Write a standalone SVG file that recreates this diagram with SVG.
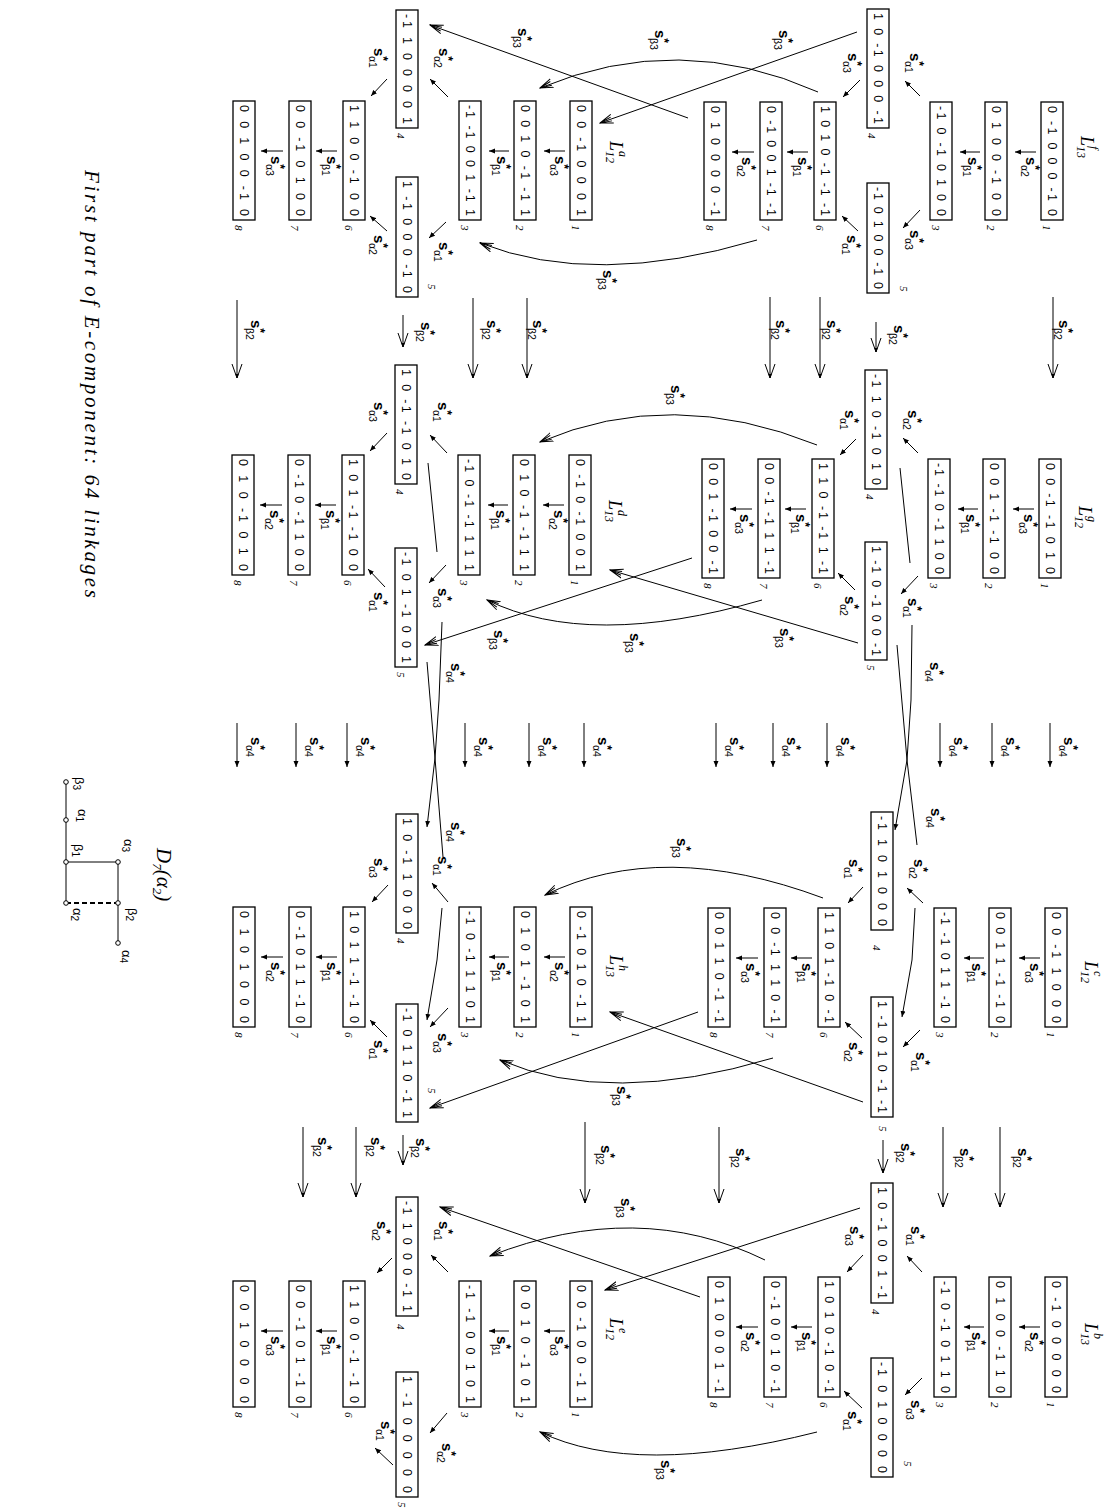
<svg xmlns="http://www.w3.org/2000/svg" width="1115" height="1508" viewBox="0 0 1115 1508">
<defs>
<style>
.bx{fill:#fff;stroke:#000;stroke-width:1.3}
.bt{font-family:"Liberation Sans",Arial,sans-serif;font-size:12.5px;fill:#000}
.nm{font-family:"Liberation Serif","Times New Roman",serif;font-style:italic;font-size:11px}
.lb{font-family:"Liberation Sans",Arial,sans-serif;font-size:15px;font-weight:bold}
.st{font-size:12px}
.sb{font-size:10.5px;font-weight:normal}
.ln{fill:none;stroke:#000;stroke-width:1}
.a1{marker-end:url(#ms)}
.a2{marker-end:url(#mv)}
.a3{marker-end:url(#mw)}
.L{font-family:"Liberation Serif","Times New Roman",serif;font-style:italic;font-size:18px}
.Ls{font-size:12px}
.dk{font-family:"Liberation Sans",Arial,sans-serif;font-size:13px}
.dks{font-size:10px}
.ttl{font-family:"Liberation Serif","Times New Roman",serif;font-style:italic;font-size:21px}
</style>
<marker id="ms" viewBox="-6 -3 6.5 6" refX="0" refY="0" markerWidth="6.5" markerHeight="6" orient="auto" markerUnits="userSpaceOnUse"><path d="M-6,-2.5 L0,0 L-6,2.5 z" fill="#000"/></marker>
<marker id="mv" viewBox="-14 -6 15 12" refX="0" refY="0" markerWidth="15" markerHeight="12" orient="auto" markerUnits="userSpaceOnUse"><path d="M-14,-5 L0,0 L-14,5" fill="none" stroke="#000" stroke-width="1"/><path d="M-4,-1.8 L0,0 L-4,1.8 z" fill="#000"/></marker>
<marker id="mw" viewBox="-13 -6 14 12" refX="0" refY="0" markerWidth="14" markerHeight="12" orient="auto" markerUnits="userSpaceOnUse"><path d="M-13,-4.5 L0,0 L-13,4.5 M-12,-2 L0,0 L-12,2" fill="none" stroke="#000" stroke-width="1"/></marker>
</defs>
<rect width="1115" height="1508" fill="#fff"/>
<g transform="translate(1115 0) rotate(90)">

<g id="connectors">
<!-- intra f -->
<path class="ln a1" d="M152,79 L152,100"/><text class="lb" x="157" y="89">s<tspan class="st" dy="-5">*</tspan><tspan class="sb" dx="-5" dy="10">α2</tspan></text>
<path class="ln a1" d="M152,135 L152,155"/><text class="lb" x="157" y="147">s<tspan class="st" dy="-5">*</tspan><tspan class="sb" dx="-5" dy="10">β1</tspan></text>
<path class="ln a1" d="M96,195 L81,210"/><text class="lb" x="53" y="205">s<tspan class="st" dy="-5">*</tspan><tspan class="sb" dx="-5" dy="10">α1</tspan></text>
<path class="ln a1" d="M210,195 L228,212"/><text class="lb" x="230" y="205">s<tspan class="st" dy="-5">*</tspan><tspan class="sb" dx="-5" dy="10">α3</tspan></text>
<path class="ln a1" d="M80,255 L97,272"/><text class="lb" x="53" y="267">s<tspan class="st" dy="-5">*</tspan><tspan class="sb" dx="-5" dy="10">α3</tspan></text>
<path class="ln a1" d="M231,257 L216,273"/><text class="lb" x="235" y="268">s<tspan class="st" dy="-5">*</tspan><tspan class="sb" dx="-5" dy="10">α1</tspan></text>
<path class="ln a1" d="M152,307 L152,328"/><text class="lb" x="157" y="317">s<tspan class="st" dy="-5">*</tspan><tspan class="sb" dx="-5" dy="10">β1</tspan></text>
<path class="ln a1" d="M152,361 L152,383"/><text class="lb" x="157" y="373">s<tspan class="st" dy="-5">*</tspan><tspan class="sb" dx="-5" dy="10">α2</tspan></text>
<!-- intra g -->
<path class="ln a1" d="M509,81 L509,102"/><text class="lb" x="514" y="91">s<tspan class="st" dy="-5">*</tspan><tspan class="sb" dx="-5" dy="10">α3</tspan></text>
<path class="ln a1" d="M509,137 L509,157"/><text class="lb" x="514" y="149">s<tspan class="st" dy="-5">*</tspan><tspan class="sb" dx="-5" dy="10">β1</tspan></text>
<path class="ln a1" d="M453,197 L438,212"/><text class="lb" x="410" y="207">s<tspan class="st" dy="-5">*</tspan><tspan class="sb" dx="-5" dy="10">α2</tspan></text>
<path class="ln a1" d="M576,197 L594,214"/><text class="lb" x="598" y="207">s<tspan class="st" dy="-5">*</tspan><tspan class="sb" dx="-5" dy="10">α1</tspan></text>
<path class="ln a1" d="M439,259 L455,275"/><text class="lb" x="410" y="270">s<tspan class="st" dy="-5">*</tspan><tspan class="sb" dx="-5" dy="10">α1</tspan></text>
<path class="ln a1" d="M590,260 L573,277"/><text class="lb" x="596" y="270">s<tspan class="st" dy="-5">*</tspan><tspan class="sb" dx="-5" dy="10">α2</tspan></text>
<path class="ln a1" d="M509,309 L509,330"/><text class="lb" x="514" y="319">s<tspan class="st" dy="-5">*</tspan><tspan class="sb" dx="-5" dy="10">β1</tspan></text>
<path class="ln a1" d="M509,363 L509,385"/><text class="lb" x="514" y="375">s<tspan class="st" dy="-5">*</tspan><tspan class="sb" dx="-5" dy="10">α3</tspan></text>
<!-- intra c -->
<path class="ln a1" d="M958,75 L958,96"/><text class="lb" x="963" y="85">s<tspan class="st" dy="-5">*</tspan><tspan class="sb" dx="-5" dy="10">α3</tspan></text>
<path class="ln a1" d="M958,131 L958,151"/><text class="lb" x="963" y="143">s<tspan class="st" dy="-5">*</tspan><tspan class="sb" dx="-5" dy="10">β1</tspan></text>
<path class="ln a1" d="M903,192 L888,208"/><text class="lb" x="859" y="201">s<tspan class="st" dy="-5">*</tspan><tspan class="sb" dx="-5" dy="10">α2</tspan></text>
<path class="ln a1" d="M1030,195 L1047,212"/><text class="lb" x="1052" y="199">s<tspan class="st" dy="-5">*</tspan><tspan class="sb" dx="-5" dy="10">α1</tspan></text>
<path class="ln a1" d="M887,252 L903,267"/><text class="lb" x="859" y="266">s<tspan class="st" dy="-5">*</tspan><tspan class="sb" dx="-5" dy="10">α1</tspan></text>
<path class="ln a1" d="M1038,253 L1022,270"/><text class="lb" x="1042" y="266">s<tspan class="st" dy="-5">*</tspan><tspan class="sb" dx="-5" dy="10">α2</tspan></text>
<path class="ln a1" d="M958,303 L958,324"/><text class="lb" x="963" y="313">s<tspan class="st" dy="-5">*</tspan><tspan class="sb" dx="-5" dy="10">β1</tspan></text>
<path class="ln a1" d="M958,357 L958,379"/><text class="lb" x="963" y="369">s<tspan class="st" dy="-5">*</tspan><tspan class="sb" dx="-5" dy="10">α3</tspan></text>
<!-- intra b -->
<path class="ln a1" d="M1327,75 L1327,96"/><text class="lb" x="1332" y="85">s<tspan class="st" dy="-5">*</tspan><tspan class="sb" dx="-5" dy="10">α2</tspan></text>
<path class="ln a1" d="M1327,131 L1327,151"/><text class="lb" x="1332" y="143">s<tspan class="st" dy="-5">*</tspan><tspan class="sb" dx="-5" dy="10">β1</tspan></text>
<path class="ln a1" d="M1272,193 L1256,208"/><text class="lb" x="1226" y="204">s<tspan class="st" dy="-5">*</tspan><tspan class="sb" dx="-5" dy="10">α1</tspan></text>
<path class="ln a1" d="M1378,193 L1395,210"/><text class="lb" x="1400" y="204">s<tspan class="st" dy="-5">*</tspan><tspan class="sb" dx="-5" dy="10">α3</tspan></text>
<path class="ln a1" d="M1255,252 L1272,268"/><text class="lb" x="1226" y="265">s<tspan class="st" dy="-5">*</tspan><tspan class="sb" dx="-5" dy="10">α3</tspan></text>
<path class="ln a1" d="M1408,253 L1391,271"/><text class="lb" x="1411" y="267">s<tspan class="st" dy="-5">*</tspan><tspan class="sb" dx="-5" dy="10">α1</tspan></text>
<path class="ln a1" d="M1327,303 L1327,324"/><text class="lb" x="1332" y="313">s<tspan class="st" dy="-5">*</tspan><tspan class="sb" dx="-5" dy="10">β1</tspan></text>
<path class="ln a1" d="M1327,357 L1327,379"/><text class="lb" x="1332" y="369">s<tspan class="st" dy="-5">*</tspan><tspan class="sb" dx="-5" dy="10">α2</tspan></text>
<!-- intra a -->
<path class="ln a1" d="M151,550 L151,571"/><text class="lb" x="156" y="560">s<tspan class="st" dy="-5">*</tspan><tspan class="sb" dx="-5" dy="10">α3</tspan></text>
<path class="ln a1" d="M151,606 L151,626"/><text class="lb" x="156" y="618">s<tspan class="st" dy="-5">*</tspan><tspan class="sb" dx="-5" dy="10">β1</tspan></text>
<path class="ln a1" d="M97,667 L79,685"/><text class="lb" x="48" y="676">s<tspan class="st" dy="-5">*</tspan><tspan class="sb" dx="-5" dy="10">α2</tspan></text>
<path class="ln a1" d="M222,669 L238,686"/><text class="lb" x="242" y="676">s<tspan class="st" dy="-5">*</tspan><tspan class="sb" dx="-5" dy="10">α1</tspan></text>
<path class="ln a1" d="M79,728 L96,744"/><text class="lb" x="48" y="741">s<tspan class="st" dy="-5">*</tspan><tspan class="sb" dx="-5" dy="10">α1</tspan></text>
<path class="ln a1" d="M231,728 L216,745"/><text class="lb" x="235" y="741">s<tspan class="st" dy="-5">*</tspan><tspan class="sb" dx="-5" dy="10">α2</tspan></text>
<path class="ln a1" d="M151,778 L151,799"/><text class="lb" x="156" y="788">s<tspan class="st" dy="-5">*</tspan><tspan class="sb" dx="-5" dy="10">β1</tspan></text>
<path class="ln a1" d="M151,832 L151,854"/><text class="lb" x="156" y="844">s<tspan class="st" dy="-5">*</tspan><tspan class="sb" dx="-5" dy="10">α3</tspan></text>
<!-- intra d -->
<path class="ln a1" d="M505,551 L505,572"/><text class="lb" x="510" y="561">s<tspan class="st" dy="-5">*</tspan><tspan class="sb" dx="-5" dy="10">α2</tspan></text>
<path class="ln a1" d="M505,607 L505,627"/><text class="lb" x="510" y="619">s<tspan class="st" dy="-5">*</tspan><tspan class="sb" dx="-5" dy="10">β1</tspan></text>
<path class="ln a1" d="M453,668 L435,685"/><text class="lb" x="402" y="677">s<tspan class="st" dy="-5">*</tspan><tspan class="sb" dx="-5" dy="10">α1</tspan></text>
<path class="ln a1" d="M565,669 L583,686"/><text class="lb" x="588" y="677">s<tspan class="st" dy="-5">*</tspan><tspan class="sb" dx="-5" dy="10">α3</tspan></text>
<path class="ln a1" d="M433,728 L451,745"/><text class="lb" x="402" y="741">s<tspan class="st" dy="-5">*</tspan><tspan class="sb" dx="-5" dy="10">α3</tspan></text>
<path class="ln a1" d="M587,730 L569,747"/><text class="lb" x="592" y="741">s<tspan class="st" dy="-5">*</tspan><tspan class="sb" dx="-5" dy="10">α1</tspan></text>
<path class="ln a1" d="M505,779 L505,800"/><text class="lb" x="510" y="789">s<tspan class="st" dy="-5">*</tspan><tspan class="sb" dx="-5" dy="10">β1</tspan></text>
<path class="ln a1" d="M505,833 L505,855"/><text class="lb" x="510" y="845">s<tspan class="st" dy="-5">*</tspan><tspan class="sb" dx="-5" dy="10">α2</tspan></text>
<!-- intra h -->
<path class="ln a1" d="M957,550 L957,571"/><text class="lb" x="962" y="560">s<tspan class="st" dy="-5">*</tspan><tspan class="sb" dx="-5" dy="10">α2</tspan></text>
<path class="ln a1" d="M957,606 L957,626"/><text class="lb" x="962" y="618">s<tspan class="st" dy="-5">*</tspan><tspan class="sb" dx="-5" dy="10">β1</tspan></text>
<path class="ln a1" d="M902,667 L883,683"/><text class="lb" x="856" y="677">s<tspan class="st" dy="-5">*</tspan><tspan class="sb" dx="-5" dy="10">α1</tspan></text>
<path class="ln a1" d="M1008,667 L1027,685"/><text class="lb" x="1033" y="677">s<tspan class="st" dy="-5">*</tspan><tspan class="sb" dx="-5" dy="10">α3</tspan></text>
<path class="ln a1" d="M885,727 L902,743"/><text class="lb" x="858" y="741">s<tspan class="st" dy="-5">*</tspan><tspan class="sb" dx="-5" dy="10">α3</tspan></text>
<path class="ln a1" d="M1037,728 L1020,745"/><text class="lb" x="1040" y="741">s<tspan class="st" dy="-5">*</tspan><tspan class="sb" dx="-5" dy="10">α1</tspan></text>
<path class="ln a1" d="M957,778 L957,799"/><text class="lb" x="962" y="788">s<tspan class="st" dy="-5">*</tspan><tspan class="sb" dx="-5" dy="10">β1</tspan></text>
<path class="ln a1" d="M957,832 L957,854"/><text class="lb" x="962" y="844">s<tspan class="st" dy="-5">*</tspan><tspan class="sb" dx="-5" dy="10">α2</tspan></text>
<!-- intra e -->
<path class="ln a1" d="M1331,550 L1331,571"/><text class="lb" x="1336" y="560">s<tspan class="st" dy="-5">*</tspan><tspan class="sb" dx="-5" dy="10">α3</tspan></text>
<path class="ln a1" d="M1331,606 L1331,626"/><text class="lb" x="1336" y="618">s<tspan class="st" dy="-5">*</tspan><tspan class="sb" dx="-5" dy="10">β1</tspan></text>
<path class="ln a1" d="M1272,667 L1255,684"/><text class="lb" x="1221" y="676">s<tspan class="st" dy="-5">*</tspan><tspan class="sb" dx="-5" dy="10">α1</tspan></text>
<path class="ln a1" d="M1413,668 L1433,685"/><text class="lb" x="1443" y="673">s<tspan class="st" dy="-5">*</tspan><tspan class="sb" dx="-5" dy="10">α2</tspan></text>
<path class="ln a1" d="M1258,723 L1273,738"/><text class="lb" x="1221" y="738">s<tspan class="st" dy="-5">*</tspan><tspan class="sb" dx="-5" dy="10">α2</tspan></text>
<path class="ln a1" d="M1465,722 L1448,740"/><text class="lb" x="1421" y="734">s<tspan class="st" dy="-5">*</tspan><tspan class="sb" dx="-5" dy="10">α1</tspan></text>
<path class="ln a1" d="M1331,778 L1331,799"/><text class="lb" x="1336" y="788">s<tspan class="st" dy="-5">*</tspan><tspan class="sb" dx="-5" dy="10">β1</tspan></text>
<path class="ln a1" d="M1331,832 L1331,854"/><text class="lb" x="1336" y="844">s<tspan class="st" dy="-5">*</tspan><tspan class="sb" dx="-5" dy="10">α3</tspan></text>

<!-- beta2 f->g -->
<path class="ln a2" d="M297,62 L378,62"/><text class="lb" x="320" y="56">s<tspan class="st" dy="-5">*</tspan><tspan class="sb" dx="-5" dy="10">β2</tspan></text>
<path class="ln a2" d="M322,239 L352,239"/><text class="lb" x="325" y="221">s<tspan class="st" dy="-5">*</tspan><tspan class="sb" dx="-5" dy="10">β2</tspan></text>
<path class="ln a2" d="M297,295 L378,295"/><text class="lb" x="320" y="288">s<tspan class="st" dy="-5">*</tspan><tspan class="sb" dx="-5" dy="10">β2</tspan></text>
<path class="ln a2" d="M297,345 L378,345"/><text class="lb" x="320" y="339">s<tspan class="st" dy="-5">*</tspan><tspan class="sb" dx="-5" dy="10">β2</tspan></text>
<!-- beta2 a->d -->
<path class="ln a2" d="M298,588 L378,588"/><text class="lb" x="320" y="582">s<tspan class="st" dy="-5">*</tspan><tspan class="sb" dx="-5" dy="10">β2</tspan></text>
<path class="ln a2" d="M298,642 L378,642"/><text class="lb" x="320" y="628">s<tspan class="st" dy="-5">*</tspan><tspan class="sb" dx="-5" dy="10">β2</tspan></text>
<path class="ln a2" d="M315,712 L347,712"/><text class="lb" x="322" y="694">s<tspan class="st" dy="-5">*</tspan><tspan class="sb" dx="-5" dy="10">β2</tspan></text>
<path class="ln a2" d="M300,878 L378,878"/><text class="lb" x="320" y="864">s<tspan class="st" dy="-5">*</tspan><tspan class="sb" dx="-5" dy="10">β2</tspan></text>
<!-- beta2 c->b -->
<path class="ln a2" d="M1127,115 L1207,115"/><text class="lb" x="1148" y="97">s<tspan class="st" dy="-5">*</tspan><tspan class="sb" dx="-5" dy="10">β2</tspan></text>
<path class="ln a2" d="M1127,172 L1207,172"/><text class="lb" x="1148" y="155">s<tspan class="st" dy="-5">*</tspan><tspan class="sb" dx="-5" dy="10">β2</tspan></text>
<path class="ln a2" d="M1140,232 L1173,232"/><text class="lb" x="1143" y="214">s<tspan class="st" dy="-5">*</tspan><tspan class="sb" dx="-5" dy="10">β2</tspan></text>
<path class="ln a2" d="M1127,396 L1203,396"/><text class="lb" x="1148" y="379">s<tspan class="st" dy="-5">*</tspan><tspan class="sb" dx="-5" dy="10">β2</tspan></text>
<!-- beta2 h->e -->
<path class="ln a2" d="M1122,530 L1203,530"/><text class="lb" x="1145" y="514">s<tspan class="st" dy="-5">*</tspan><tspan class="sb" dx="-5" dy="10">β2</tspan></text>
<path class="ln a2" d="M1135,712 L1165,712"/><text class="lb" x="1138" y="699">s<tspan class="st" dy="-5">*</tspan><tspan class="sb" dx="-5" dy="10">β2</tspan></text>
<path class="ln a2" d="M1127,759 L1197,759"/><text class="lb" x="1137" y="744">s<tspan class="st" dy="-5">*</tspan><tspan class="sb" dx="-5" dy="10">β2</tspan></text>
<path class="ln a2" d="M1127,812 L1197,812"/><text class="lb" x="1137" y="797">s<tspan class="st" dy="-5">*</tspan><tspan class="sb" dx="-5" dy="10">β2</tspan></text>

<!-- alpha4 g->c -->
<path class="ln a1" d="M723,65 L767,65"/><text class="lb" x="737" y="51">s<tspan class="st" dy="-5">*</tspan><tspan class="sb" dx="-5" dy="10">α4</tspan></text>
<path class="ln a1" d="M723,123 L767,123"/><text class="lb" x="737" y="109">s<tspan class="st" dy="-5">*</tspan><tspan class="sb" dx="-5" dy="10">α4</tspan></text>
<path class="ln a1" d="M723,175 L767,175"/><text class="lb" x="737" y="161">s<tspan class="st" dy="-5">*</tspan><tspan class="sb" dx="-5" dy="10">α4</tspan></text>
<path class="ln a1" d="M723,288 L767,288"/><text class="lb" x="737" y="274">s<tspan class="st" dy="-5">*</tspan><tspan class="sb" dx="-5" dy="10">α4</tspan></text>
<path class="ln a1" d="M723,342 L767,342"/><text class="lb" x="737" y="328">s<tspan class="st" dy="-5">*</tspan><tspan class="sb" dx="-5" dy="10">α4</tspan></text>
<path class="ln a1" d="M723,399 L767,399"/><text class="lb" x="737" y="385">s<tspan class="st" dy="-5">*</tspan><tspan class="sb" dx="-5" dy="10">α4</tspan></text>
<!-- alpha4 d->h -->
<path class="ln a1" d="M723,531 L767,531"/><text class="lb" x="737" y="517">s<tspan class="st" dy="-5">*</tspan><tspan class="sb" dx="-5" dy="10">α4</tspan></text>
<path class="ln a1" d="M723,586 L767,586"/><text class="lb" x="737" y="572">s<tspan class="st" dy="-5">*</tspan><tspan class="sb" dx="-5" dy="10">α4</tspan></text>
<path class="ln a1" d="M723,650 L767,650"/><text class="lb" x="737" y="636">s<tspan class="st" dy="-5">*</tspan><tspan class="sb" dx="-5" dy="10">α4</tspan></text>
<path class="ln a1" d="M723,768 L767,768"/><text class="lb" x="737" y="754">s<tspan class="st" dy="-5">*</tspan><tspan class="sb" dx="-5" dy="10">α4</tspan></text>
<path class="ln a1" d="M723,819 L767,819"/><text class="lb" x="737" y="805">s<tspan class="st" dy="-5">*</tspan><tspan class="sb" dx="-5" dy="10">α4</tspan></text>
<path class="ln a1" d="M723,878 L767,878"/><text class="lb" x="737" y="864">s<tspan class="st" dy="-5">*</tspan><tspan class="sb" dx="-5" dy="10">α4</tspan></text>
<!-- alpha4 crossing curves -->
<path class="ln a1" d="M468,215 L563,205 M625,203 L700,204 L760,208 L830,220"/>
<path class="ln a1" d="M645,218 L760,208 L845,198 M908,200 L960,203 L1017,213"/>
<text class="lb" x="662" y="185">s<tspan class="st" dy="-5">*</tspan><tspan class="sb" dx="-5" dy="10">α4</tspan></text>
<text class="lb" x="808" y="184">s<tspan class="st" dy="-5">*</tspan><tspan class="sb" dx="-5" dy="10">α4</tspan></text>
<path class="ln a1" d="M463,687 L552,678 M622,673 L700,676 L758,680 L827,688"/>
<path class="ln a1" d="M662,688 L758,680 L857,672 M908,673 L960,678 L1020,688"/>
<text class="lb" x="663" y="664">s<tspan class="st" dy="-5">*</tspan><tspan class="sb" dx="-5" dy="10">α4</tspan></text>
<text class="lb" x="822" y="664">s<tspan class="st" dy="-5">*</tspan><tspan class="sb" dx="-5" dy="10">α4</tspan></text>

<!-- beta3 f/a -->
<path class="ln a3" d="M32,258 L123,515"/>
<path class="ln a3" d="M92,297 Q30,436 88,575"/>
<path class="ln a3" d="M118,427 L25,685"/>
<path class="ln a3" d="M240,358 Q288,520 243,635"/>
<text class="lb" x="30" y="336">s<tspan class="st" dy="-5">*</tspan><tspan class="sb" dx="-5" dy="10">β3</tspan></text>
<text class="lb" x="30" y="460">s<tspan class="st" dy="-5">*</tspan><tspan class="sb" dx="-5" dy="10">β3</tspan></text>
<text class="lb" x="28" y="597">s<tspan class="st" dy="-5">*</tspan><tspan class="sb" dx="-5" dy="10">β3</tspan></text>
<text class="lb" x="270" y="512">s<tspan class="st" dy="-5">*</tspan><tspan class="sb" dx="-5" dy="10">β3</tspan></text>
<!-- beta3 g/d -->
<path class="ln a3" d="M643,257 L570,505"/>
<path class="ln a3" d="M445,298 Q386,444 442,575"/>
<path class="ln a3" d="M558,423 L645,690"/>
<path class="ln a3" d="M600,353 Q650,526 600,628"/>
<text class="lb" x="385" y="444">s<tspan class="st" dy="-5">*</tspan><tspan class="sb" dx="-5" dy="10">β3</tspan></text>
<text class="lb" x="633" y="485">s<tspan class="st" dy="-5">*</tspan><tspan class="sb" dx="-5" dy="10">β3</tspan></text>
<text class="lb" x="630" y="621">s<tspan class="st" dy="-5">*</tspan><tspan class="sb" dx="-5" dy="10">β3</tspan></text>
<text class="lb" x="628" y="335">s<tspan class="st" dy="-5">*</tspan><tspan class="sb" dx="-5" dy="10">β3</tspan></text>
<!-- beta3 c/h -->
<path class="ln a3" d="M1102,252 L1012,505"/>
<path class="ln a3" d="M898,292 Q838,453 895,570"/>
<path class="ln a3" d="M1012,417 L1108,685"/>
<path class="ln a3" d="M1058,342 Q1107,506 1060,615"/>
<text class="lb" x="838" y="438">s<tspan class="st" dy="-5">*</tspan><tspan class="sb" dx="-5" dy="10">β3</tspan></text>
<text class="lb" x="1086" y="498">s<tspan class="st" dy="-5">*</tspan><tspan class="sb" dx="-5" dy="10">β3</tspan></text>
<!-- beta3 b/e -->
<path class="ln a3" d="M1208,255 L1290,510"/>
<path class="ln a3" d="M1260,350 Q1198,477 1256,625"/>
<path class="ln a3" d="M1297,415 L1207,675"/>
<path class="ln a3" d="M1432,298 Q1478,480 1432,575"/>
<text class="lb" x="1198" y="494">s<tspan class="st" dy="-5">*</tspan><tspan class="sb" dx="-5" dy="10">β3</tspan></text>
<text class="lb" x="1460" y="454">s<tspan class="st" dy="-5">*</tspan><tspan class="sb" dx="-5" dy="10">β3</tspan></text>
</g>

<!-- L_13^f -->
<g id="Lf">
<text class="L" x="136" y="34">L<tspan class="Ls" dy="4">13</tspan><tspan class="Ls" dx="-12" dy="-13">f</tspan></text>
<g id="f1"><rect class="bx" x="102" y="52" width="118" height="22"/><text class="bt" x="106" y="67.5" textLength="110">0 -1 0 0 0 -1 0</text><text class="nm" x="225" y="72">1</text></g>
<g id="f2"><rect class="bx" x="102" y="108" width="118" height="22"/><text class="bt" x="106" y="123.5" textLength="110">0 1 0 0 -1 0 0</text><text class="nm" x="225" y="128">2</text></g>
<g id="f3"><rect class="bx" x="102" y="163" width="118" height="22"/><text class="bt" x="106" y="178.5" textLength="110">-1 0 -1 0 1 0 0</text><text class="nm" x="225" y="183">3</text></g>
<g id="f4"><rect class="bx" x="9" y="226" width="119" height="22"/><text class="bt" x="13" y="241.5" textLength="111">1 0 -1 0 0 0 -1</text><text class="nm" x="133" y="247">4</text></g>
<g id="f5"><rect class="bx" x="183" y="226" width="110" height="22"/><text class="bt" x="187" y="241.5" textLength="102">-1 0 1 0 0 -1 0</text><text class="nm" x="286" y="215">5</text></g>
<g id="f6"><rect class="bx" x="102" y="279" width="118" height="22"/><text class="bt" x="106" y="294.5" textLength="110">1 0 1 0 -1 -1 -1</text><text class="nm" x="225" y="299">6</text></g>
<g id="f7"><rect class="bx" x="102" y="333" width="118" height="22"/><text class="bt" x="106" y="348.5" textLength="110">0 -1 0 0 1 -1 -1</text><text class="nm" x="225" y="353">7</text></g>
<g id="f8"><rect class="bx" x="102" y="389" width="118" height="22"/><text class="bt" x="106" y="404.5" textLength="110">0 1 0 0 0 0 -1</text><text class="nm" x="225" y="409">8</text></g>
</g>

<!-- L_12^g -->
<g id="Lg">
<text class="L" x="506" y="36">L<tspan class="Ls" dy="4">12</tspan><tspan class="Ls" dx="-12" dy="-13">g</tspan></text>
<g id="g1"><rect class="bx" x="459" y="54" width="119" height="22"/><text class="bt" x="463" y="69.5" textLength="111">0 0 -1 -1 0 1 0</text><text class="nm" x="583" y="74">1</text></g>
<g id="g2"><rect class="bx" x="459" y="110" width="119" height="22"/><text class="bt" x="463" y="125.5" textLength="111">0 0 1 -1 -1 0 0</text><text class="nm" x="583" y="130">2</text></g>
<g id="g3"><rect class="bx" x="459" y="165" width="119" height="22"/><text class="bt" x="463" y="180.5" textLength="111">-1 -1 0 -1 1 0 0</text><text class="nm" x="583" y="185">3</text></g>
<g id="g4"><rect class="bx" x="370" y="228" width="119" height="22"/><text class="bt" x="374" y="243.5" textLength="111">-1 1 0 -1 0 1 0</text><text class="nm" x="494" y="249">4</text></g>
<g id="g5"><rect class="bx" x="542" y="228" width="118" height="22"/><text class="bt" x="546" y="243.5" textLength="110">1 -1 0 -1 0 0 -1</text><text class="nm" x="665" y="248">5</text></g>
<g id="g6"><rect class="bx" x="459" y="281" width="119" height="22"/><text class="bt" x="463" y="296.5" textLength="111">1 1 0 -1 -1 1 -1</text><text class="nm" x="583" y="301">6</text></g>
<g id="g7"><rect class="bx" x="459" y="335" width="119" height="22"/><text class="bt" x="463" y="350.5" textLength="111">0 0 -1 -1 1 1 -1</text><text class="nm" x="583" y="355">7</text></g>
<g id="g8"><rect class="bx" x="459" y="391" width="119" height="22"/><text class="bt" x="463" y="406.5" textLength="111">0 0 1 -1 0 0 -1</text><text class="nm" x="583" y="411">8</text></g>
</g>

<!-- L_12^c -->
<g id="Lc">
<text class="L" x="961" y="30">L<tspan class="Ls" dy="4">12</tspan><tspan class="Ls" dx="-12" dy="-13">c</tspan></text>
<g id="c1"><rect class="bx" x="908" y="48" width="119" height="22"/><text class="bt" x="912" y="63.5" textLength="111">0 0 -1 1 0 0 0</text><text class="nm" x="1032" y="68">1</text></g>
<g id="c2"><rect class="bx" x="908" y="104" width="119" height="22"/><text class="bt" x="912" y="119.5" textLength="111">0 0 1 1 -1 -1 0</text><text class="nm" x="1032" y="124">2</text></g>
<g id="c3"><rect class="bx" x="908" y="159" width="119" height="22"/><text class="bt" x="912" y="174.5" textLength="111">-1 -1 0 1 1 -1 0</text><text class="nm" x="1032" y="179">3</text></g>
<g id="c4"><rect class="bx" x="812" y="222" width="118" height="22"/><text class="bt" x="816" y="237.5" textLength="110">-1 1 0 1 0 0 0</text><text class="nm" x="945" y="242">4</text></g>
<g id="c5"><rect class="bx" x="997" y="222" width="120" height="22"/><text class="bt" x="1001" y="237.5" textLength="112">1 -1 0 1 0 -1 -1</text><text class="nm" x="1126" y="236">5</text></g>
<g id="c6"><rect class="bx" x="908" y="275" width="119" height="22"/><text class="bt" x="912" y="290.5" textLength="111">1 1 0 1 -1 0 -1</text><text class="nm" x="1032" y="295">6</text></g>
<g id="c7"><rect class="bx" x="908" y="329" width="119" height="22"/><text class="bt" x="912" y="344.5" textLength="111">0 0 -1 1 1 0 -1</text><text class="nm" x="1032" y="349">7</text></g>
<g id="c8"><rect class="bx" x="908" y="385" width="119" height="22"/><text class="bt" x="912" y="400.5" textLength="111">0 0 1 1 0 -1 -1</text><text class="nm" x="1032" y="405">8</text></g>
</g>

<!-- L_13^b -->
<g id="Lb">
<text class="L" x="1323" y="30">L<tspan class="Ls" dy="4">13</tspan><tspan class="Ls" dx="-12" dy="-13">b</tspan></text>
<g id="b1"><rect class="bx" x="1277" y="48" width="120" height="22"/><text class="bt" x="1281" y="63.5" textLength="112">0 -1 0 0 0 0 0</text><text class="nm" x="1402" y="68">1</text></g>
<g id="b2"><rect class="bx" x="1277" y="104" width="120" height="22"/><text class="bt" x="1281" y="119.5" textLength="112">0 1 0 0 -1 1 0</text><text class="nm" x="1402" y="124">2</text></g>
<g id="b3"><rect class="bx" x="1277" y="159" width="120" height="22"/><text class="bt" x="1281" y="174.5" textLength="112">-1 0 -1 0 1 1 0</text><text class="nm" x="1402" y="179">3</text></g>
<g id="b4"><rect class="bx" x="1183" y="222" width="120" height="22"/><text class="bt" x="1187" y="237.5" textLength="112">1 0 -1 0 0 1 -1</text><text class="nm" x="1309" y="243">4</text></g>
<g id="b5"><rect class="bx" x="1358" y="222" width="119" height="22"/><text class="bt" x="1362" y="237.5" textLength="111">-1 0 1 0 0 0 0</text><text class="nm" x="1461" y="211">5</text></g>
<g id="b6"><rect class="bx" x="1277" y="275" width="120" height="22"/><text class="bt" x="1281" y="290.5" textLength="112">1 0 1 0 -1 0 -1</text><text class="nm" x="1402" y="295">6</text></g>
<g id="b7"><rect class="bx" x="1277" y="329" width="120" height="22"/><text class="bt" x="1281" y="344.5" textLength="112">0 -1 0 0 1 0 -1</text><text class="nm" x="1402" y="349">7</text></g>
<g id="b8"><rect class="bx" x="1277" y="385" width="120" height="22"/><text class="bt" x="1281" y="400.5" textLength="112">0 1 0 0 0 1 -1</text><text class="nm" x="1402" y="405">8</text></g>
</g>

<!-- L_12^a -->
<g id="La">
<text class="L" x="141" y="505">L<tspan class="Ls" dy="4">12</tspan><tspan class="Ls" dx="-12" dy="-13">a</tspan></text>
<g id="a1"><rect class="bx" x="101" y="523" width="119" height="22"/><text class="bt" x="105" y="538.5" textLength="111">0 0 -1 0 0 0 1</text><text class="nm" x="225" y="543">1</text></g>
<g id="a2"><rect class="bx" x="101" y="579" width="119" height="22"/><text class="bt" x="105" y="594.5" textLength="111">0 0 1 0 -1 -1 1</text><text class="nm" x="225" y="599">2</text></g>
<g id="a3"><rect class="bx" x="101" y="634" width="119" height="22"/><text class="bt" x="105" y="649.5" textLength="111">-1 -1 0 0 1 -1 1</text><text class="nm" x="225" y="654">3</text></g>
<g id="a4"><rect class="bx" x="10" y="697" width="118" height="22"/><text class="bt" x="14" y="712.5" textLength="110">-1 1 0 0 0 0 1</text><text class="nm" x="133" y="718">4</text></g>
<g id="a5"><rect class="bx" x="177" y="697" width="120" height="22"/><text class="bt" x="181" y="712.5" textLength="112">1 -1 0 0 0 -1 0</text><text class="nm" x="284" y="687">5</text></g>
<g id="a6"><rect class="bx" x="101" y="750" width="119" height="22"/><text class="bt" x="105" y="765.5" textLength="111">1 1 0 0 -1 0 0</text><text class="nm" x="225" y="770">6</text></g>
<g id="a7"><rect class="bx" x="101" y="804" width="119" height="22"/><text class="bt" x="105" y="819.5" textLength="111">0 0 -1 0 1 0 0</text><text class="nm" x="225" y="824">7</text></g>
<g id="a8"><rect class="bx" x="101" y="860" width="119" height="22"/><text class="bt" x="105" y="875.5" textLength="111">0 0 1 0 0 -1 0</text><text class="nm" x="225" y="880">8</text></g>
</g>

<!-- L_13^d -->
<g id="Ld">
<text class="L" x="500" y="506">L<tspan class="Ls" dy="4">13</tspan><tspan class="Ls" dx="-12" dy="-13">d</tspan></text>
<g id="d1"><rect class="bx" x="455" y="524" width="120" height="22"/><text class="bt" x="459" y="539.5" textLength="112">0 -1 0 -1 0 0 1</text><text class="nm" x="580" y="544">1</text></g>
<g id="d2"><rect class="bx" x="455" y="580" width="120" height="22"/><text class="bt" x="459" y="595.5" textLength="112">0 1 0 -1 -1 1 1</text><text class="nm" x="580" y="600">2</text></g>
<g id="d3"><rect class="bx" x="455" y="635" width="120" height="22"/><text class="bt" x="459" y="650.5" textLength="112">-1 0 -1 -1 1 1 1</text><text class="nm" x="580" y="655">3</text></g>
<g id="d4"><rect class="bx" x="365" y="698" width="119" height="22"/><text class="bt" x="369" y="713.5" textLength="111">1 0 -1 -1 0 1 0</text><text class="nm" x="489" y="719">4</text></g>
<g id="d5"><rect class="bx" x="548" y="698" width="119" height="22"/><text class="bt" x="552" y="713.5" textLength="111">-1 0 1 -1 0 0 1</text><text class="nm" x="672" y="718">5</text></g>
<g id="d6"><rect class="bx" x="455" y="751" width="120" height="22"/><text class="bt" x="459" y="766.5" textLength="112">1 0 1 -1 -1 0 0</text><text class="nm" x="580" y="771">6</text></g>
<g id="d7"><rect class="bx" x="455" y="805" width="120" height="22"/><text class="bt" x="459" y="820.5" textLength="112">0 -1 0 -1 1 0 0</text><text class="nm" x="580" y="825">7</text></g>
<g id="d8"><rect class="bx" x="455" y="861" width="120" height="22"/><text class="bt" x="459" y="876.5" textLength="112">0 1 0 -1 0 1 0</text><text class="nm" x="580" y="881">8</text></g>
</g>

<!-- L_13^h -->
<g id="Lh">
<text class="L" x="955" y="505">L<tspan class="Ls" dy="4">13</tspan><tspan class="Ls" dx="-12" dy="-13">h</tspan></text>
<g id="h1"><rect class="bx" x="907" y="523" width="120" height="22"/><text class="bt" x="911" y="538.5" textLength="112">0 -1 0 1 0 -1 1</text><text class="nm" x="1032" y="543">1</text></g>
<g id="h2"><rect class="bx" x="907" y="579" width="120" height="22"/><text class="bt" x="911" y="594.5" textLength="112">0 1 0 1 -1 0 1</text><text class="nm" x="1032" y="599">2</text></g>
<g id="h3"><rect class="bx" x="907" y="634" width="120" height="22"/><text class="bt" x="911" y="649.5" textLength="112">-1 0 -1 1 1 0 1</text><text class="nm" x="1032" y="654">3</text></g>
<g id="h4"><rect class="bx" x="814" y="697" width="119" height="22"/><text class="bt" x="818" y="712.5" textLength="111">1 0 -1 1 0 0 0</text><text class="nm" x="938" y="718">4</text></g>
<g id="h5"><rect class="bx" x="1004" y="697" width="118" height="22"/><text class="bt" x="1008" y="712.5" textLength="110">-1 0 1 1 0 -1 1</text><text class="nm" x="1088" y="687">5</text></g>
<g id="h6"><rect class="bx" x="907" y="750" width="120" height="22"/><text class="bt" x="911" y="765.5" textLength="112">1 0 1 1 -1 -1 0</text><text class="nm" x="1032" y="770">6</text></g>
<g id="h7"><rect class="bx" x="907" y="804" width="120" height="22"/><text class="bt" x="911" y="819.5" textLength="112">0 -1 0 1 1 -1 0</text><text class="nm" x="1032" y="824">7</text></g>
<g id="h8"><rect class="bx" x="907" y="860" width="120" height="22"/><text class="bt" x="911" y="875.5" textLength="112">0 1 0 1 0 0 0</text><text class="nm" x="1032" y="880">8</text></g>
</g>

<!-- L_12^e -->
<g id="Le">
<text class="L" x="1318" y="505">L<tspan class="Ls" dy="4">12</tspan><tspan class="Ls" dx="-12" dy="-13">e</tspan></text>
<g id="e1"><rect class="bx" x="1281" y="523" width="126" height="22"/><text class="bt" x="1285" y="538.5" textLength="118">0 0 -1 0 0 -1 1</text><text class="nm" x="1412" y="543">1</text></g>
<g id="e2"><rect class="bx" x="1281" y="579" width="126" height="22"/><text class="bt" x="1285" y="594.5" textLength="118">0 0 1 0 -1 0 1</text><text class="nm" x="1412" y="599">2</text></g>
<g id="e3"><rect class="bx" x="1281" y="634" width="126" height="22"/><text class="bt" x="1285" y="649.5" textLength="118">-1 -1 0 0 1 0 1</text><text class="nm" x="1412" y="654">3</text></g>
<g id="e4"><rect class="bx" x="1197" y="697" width="119" height="22"/><text class="bt" x="1201" y="712.5" textLength="111">-1 1 0 0 0 -1 1</text><text class="nm" x="1324" y="718">4</text></g>
<g id="e5"><rect class="bx" x="1372" y="697" width="125" height="22"/><text class="bt" x="1376" y="712.5" textLength="117">1 -1 0 0 0 0 0</text><text class="nm" x="1502" y="717">5</text></g>
<g id="e6"><rect class="bx" x="1281" y="750" width="126" height="22"/><text class="bt" x="1285" y="765.5" textLength="118">1 1 0 0 -1 -1 0</text><text class="nm" x="1412" y="770">6</text></g>
<g id="e7"><rect class="bx" x="1281" y="804" width="126" height="22"/><text class="bt" x="1285" y="819.5" textLength="118">0 0 -1 0 1 -1 0</text><text class="nm" x="1412" y="824">7</text></g>
<g id="e8"><rect class="bx" x="1281" y="860" width="126" height="22"/><text class="bt" x="1285" y="875.5" textLength="118">0 0 1 0 0 0 0</text><text class="nm" x="1412" y="880">8</text></g>
</g>

<!-- Dynkin diagram -->
<g id="dynkin">
<path class="ln" d="M782,1049 L903,1049 M862,1049 L862,997 L903,997 L943,997"/>
<path d="M903,1049 L903,997" fill="none" stroke="#000" stroke-width="2.2" stroke-dasharray="5,3"/>
<g fill="#fff" stroke="#000" stroke-width="1">
<circle cx="782" cy="1049" r="2.3"/><circle cx="820" cy="1049" r="2.3"/><circle cx="862" cy="1049" r="2.3"/><circle cx="903" cy="1049" r="2.3"/>
<circle cx="862" cy="997" r="2.3"/><circle cx="903" cy="997" r="2.3"/><circle cx="943" cy="997" r="2.3"/>
</g>
<text class="dk" x="777" y="1040">β<tspan class="dks" dy="2">3</tspan></text>
<text class="dk" x="809" y="1037">α<tspan class="dks" dy="2">1</tspan></text>
<text class="dk" x="844" y="1041">β<tspan class="dks" dy="2">1</tspan></text>
<text class="dk" x="839" y="991">α<tspan class="dks" dy="2">3</tspan></text>
<text class="dk" x="908" y="987">β<tspan class="dks" dy="2">2</tspan></text>
<text class="dk" x="908" y="1042">α<tspan class="dks" dy="2">2</tspan></text>
<text class="dk" x="950" y="993">α<tspan class="dks" dy="2">4</tspan></text>
</g>
<text class="ttl" x="848" y="958" font-size="20">D<tspan font-size="13" dy="4">7</tspan><tspan dy="-4">(α</tspan><tspan font-size="13" dy="4">2</tspan><tspan dy="-4">)</tspan></text>
<text class="ttl" x="170" y="1030" textLength="428" lengthAdjust="spacing">First part of E-component:  64 linkages</text>
</g>
</svg>
